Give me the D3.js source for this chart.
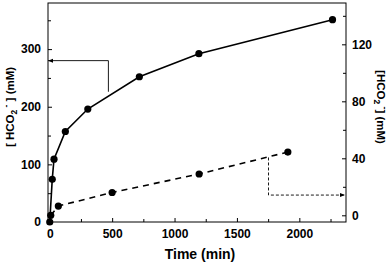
<!DOCTYPE html>
<html>
<head>
<meta charset="utf-8">
<script src="https://cdn.jsdelivr.net/npm/d3@7"></script>
<style>
  body { margin: 0; background: #fff; }
  svg { display: block; font-family: "Liberation Sans", Arial, sans-serif; font-weight: bold; }
</style>
</head>
<body>
<svg id="chart" width="392" height="269"></svg>
<script>
'use strict';

// formate, left axis (solid line)
var solidTime = [0, 20, 34, 125, 305, 718, 1195, 2266];
var solidConc = [0, 74, 109, 157, 196, 252, 292, 351];

// formate, right axis (dashed line)
var dashTime = [8, 69, 500, 1197, 1908];
var dashConc = [0, 6.5, 16, 29, 44.4];

var xTicks = [0, 500, 1000, 1500, 2000];
var leftTicks = [0, 100, 200, 300];
var rightTicks = [0, 40, 80, 120];

// arrows pointing each curve to its axis (data units)
var solidArrow = [[470, 226], [470, 280]];
var dashArrow = [[1753, 40.6], [1753, 14.2]];

var margin = {top: 3, right: 46, bottom: 47, left: 48};
var svg = d3.select('#chart');
var width = 392 - margin.left - margin.right;
var height = 269 - margin.top - margin.bottom;

var g = svg.append('g').attr('transform', 'translate(' + margin.left + ',' + margin.top + ')');

var x = d3.scaleLinear().domain([-14, 2374]).range([0, width]);
var yL = d3.scaleLinear().domain([0, 380]).range([height, 0]);
var yR = d3.scaleLinear().domain([-4.7, 149]).range([height, 0]);

// minor ticks first
function minor(axis, vals) {
  return axis.tickValues(vals).tickFormat('').tickSizeInner(-3).tickSizeOuter(0);
}
g.append('g').attr('transform', 'translate(0,' + height + ')')
  .call(minor(d3.axisBottom(x), d3.range(250, 2374, 500)));
g.append('g').call(minor(d3.axisLeft(yL), d3.range(50, 380, 100)));
g.append('g').attr('transform', 'translate(' + width + ',0)')
  .call(minor(d3.axisRight(yR), d3.range(20, 149, 40)));

var xAxis = g.append('g').attr('transform', 'translate(0,' + height + ')')
  .call(d3.axisBottom(x).tickValues(xTicks).tickFormat(d3.format('d'))
    .tickSizeInner(-4).tickSizeOuter(0).tickPadding(6));
xAxis.selectAll('text').attr('dy', '0.71em').attr('y', 7);

g.append('g').call(d3.axisLeft(yL).tickValues(leftTicks).tickSizeInner(-4).tickSizeOuter(0).tickPadding(7)
  .tickFormat(d3.format('d')));
g.append('g').attr('transform', 'translate(' + width + ',0)')
  .call(d3.axisRight(yR).tickValues(rightTicks).tickFormat(d3.format('d'))
    .tickSizeInner(-4).tickSizeOuter(0).tickPadding(6));

g.selectAll('.tick text').attr('font-size', 12).attr('font-weight', 'bold')
  .attr('font-family', '"Liberation Sans", Arial, sans-serif').attr('fill', '#000');
g.selectAll('.domain').remove();
g.selectAll('.tick line').attr('stroke', '#000');

// frame
g.append('rect').attr('width', width).attr('height', height)
  .attr('fill', 'none').attr('stroke', '#000').attr('stroke-width', 1);

// arrow markers
var defs = svg.append('defs');
defs.append('marker').attr('id', 'head').attr('viewBox', '0 0 10 10')
  .attr('refX', 10).attr('refY', 5).attr('markerWidth', 6).attr('markerHeight', 6)
  .attr('orient', 'auto')
  .append('path').attr('d', 'M0,1 L10,5 L0,9 Z').attr('fill', '#000');

var solidPts = solidArrow.map(function(d) { return [x(d[0]), yL(d[1])]; });
solidPts.push([0, yL(solidArrow[1][1])]);
g.append('path').attr('d', d3.line()(solidPts))
  .attr('fill', 'none').attr('stroke', '#000').attr('stroke-width', 0.9)
  .attr('marker-end', 'url(#head)');

var dashPts = dashArrow.map(function(d) { return [x(d[0]), yR(d[1])]; });
dashPts.push([width - 1, yR(dashArrow[1][1])]);
g.append('path').attr('d', d3.line()(dashPts))
  .attr('fill', 'none').attr('stroke', '#000').attr('stroke-width', 0.9)
  .attr('stroke-dasharray', '3,2').attr('marker-end', 'url(#head)');

// series
var solidData = solidTime.map(function(t, i) { return [t, solidConc[i]]; });
var dashData = dashTime.map(function(t, i) { return [t, dashConc[i]]; });

g.append('path').datum(solidData)
  .attr('d', d3.line().x(function(d) { return x(d[0]); }).y(function(d) { return yL(d[1]); }))
  .attr('fill', 'none').attr('stroke', '#000').attr('stroke-width', 1.6);

g.append('path').datum(dashData)
  .attr('d', d3.line().x(function(d) { return x(d[0]); }).y(function(d) { return yR(d[1]); }))
  .attr('fill', 'none').attr('stroke', '#000').attr('stroke-width', 1.6)
  .attr('stroke-dasharray', '6,5');

g.selectAll('.ds').data(solidData).enter().append('circle')
  .attr('cx', function(d) { return x(d[0]); }).attr('cy', function(d) { return yL(d[1]); })
  .attr('r', 3.6).attr('fill', '#000');
g.selectAll('.dd').data(dashData).enter().append('circle')
  .attr('cx', function(d) { return x(d[0]); }).attr('cy', function(d) { return yR(d[1]); })
  .attr('r', 3.6).attr('fill', '#000');

// axis titles
svg.append('text').attr('x', 200).attr('y', 259).attr('text-anchor', 'middle')
  .attr('font-size', 14).text('Time (min)');

var lt = svg.append('text').attr('transform', 'translate(14,107) rotate(-90)')
  .attr('text-anchor', 'middle').attr('font-size', 11.5);
lt.append('tspan').text('[ HCO');
lt.append('tspan').attr('font-size', 8.5).attr('dy', 3).text('2');
lt.append('tspan').attr('font-size', 8.5).attr('dy', -8).text(' -');
lt.append('tspan').attr('dy', 5).text(' ] (mM)');

var rt = svg.append('text').attr('transform', 'translate(377,107) rotate(90)')
  .attr('text-anchor', 'middle').attr('font-size', 11.5);
rt.append('tspan').text('[HCO');
rt.append('tspan').attr('font-size', 8.5).attr('dy', 3).text('2');
rt.append('tspan').attr('font-size', 8.5).attr('dy', -8).text(' -');
rt.append('tspan').attr('dy', 5).text('] (mM)');
</script>
</body>
</html>
